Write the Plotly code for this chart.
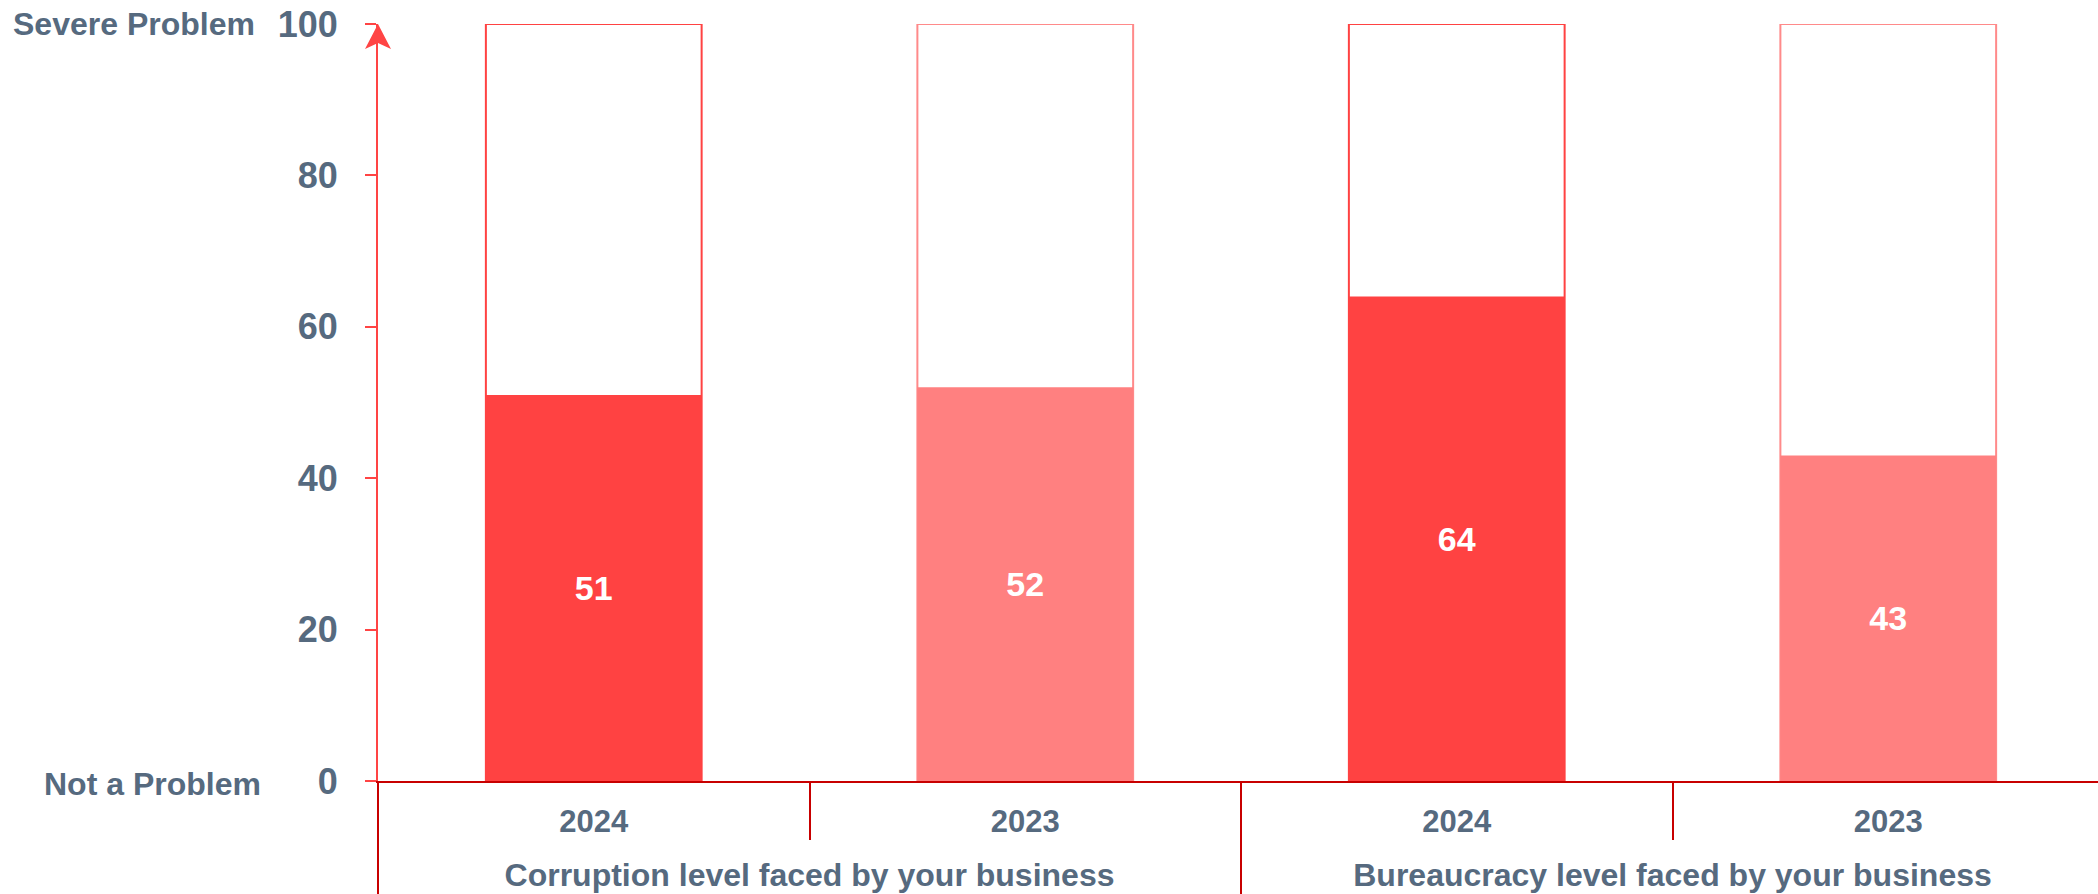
import plotly.graph_objects as go

groups = ["Corruption level faced by your business"] * 2 + ["Bureaucracy level faced by your business"] * 2
years = ["2024", "2023", "2024", "2023"]
scores = [51, 52, 64, 43]
scale_max = [100, 100, 100, 100]

fill_colors = ["#FF4242", "#FF8080", "#FF4242", "#FF8080"]
edge_colors = ["#FF4242", "#FF8A8A", "#FF4242", "#FF8A8A"]
text_color = "#566A7F"
font_family = "Liberation Sans, Arial, sans-serif"

# a tiny blank second line under each year pushes the group row lower
year_labels = ["<span style='font-size:31px'>" + y + "</span><br><span style='font-size:1px'>\u00a0</span>"
               for y in years]
group_labels = ["<span style='font-size:32px'>" + g + "</span>" for g in groups]

fig = go.Figure()

# outline bars for the full 0-100 scale
fig.add_trace(go.Bar(
    x=[group_labels, year_labels], y=scale_max,
    marker=dict(color="white", line=dict(color=edge_colors, width=2)),
    width=0.5, hoverinfo="skip", showlegend=False
))

# filled bars with the score
fig.add_trace(go.Bar(
    x=[group_labels, year_labels], y=scores,
    marker=dict(color=fill_colors, line=dict(width=0)),
    width=0.5,
    text=[str(v) for v in scores],
    textposition="inside", insidetextanchor="middle",
    textfont=dict(family=font_family, size=34, color="white", weight="bold"),
    showlegend=False
))

# slightly wider than the window so the last divider falls off the right edge
fig.update_layout(
    width=2104, height=894,
    margin=dict(l=378, r=0, t=24, b=113),
    barmode="overlay",
    plot_bgcolor="white", paper_bgcolor="white",
    font=dict(family=font_family, color=text_color),
)

fig.update_xaxes(
    type="multicategory", automargin=False,
    showline=True, linecolor="#C80000", linewidth=2,
    ticks="outside", tickson="boundaries", ticklen=57, tickwidth=2, tickcolor="#C80000",
    ticklabelstandoff=14,
    showdividers=True, dividercolor="#C80000", dividerwidth=2,
    tickfont=dict(family=font_family, size=29, color=text_color, weight="bold"),
    showgrid=False,
)

fig.update_yaxes(
    range=[0, 100], tickvals=[0, 20, 40, 60, 80, 100], automargin=False,
    showline=True, linecolor="#FF4444", linewidth=2,
    ticks="outside", ticklen=11, tickwidth=2, tickcolor="#FF4444",
    ticklabelstandoff=20,
    tickfont=dict(family=font_family, size=36, color=text_color, weight="bold"),
    showgrid=False, zeroline=False,
)

# arrow head at top of the y axis
fig.add_shape(
    type="path", xref="paper", yref="y",
    xsizemode="pixel", ysizemode="pixel", xanchor=0, yanchor=100,
    path="M0,0 L-13,-25 L0,-19 L13,-25 Z",
    fillcolor="#FF4444", line=dict(width=0),
)

fig.add_annotation(
    text="Severe Problem", xref="paper", yref="y", x=0, y=100,
    xanchor="right", yanchor="middle", xshift=-121, showarrow=False,
    font=dict(family=font_family, size=32, color=text_color, weight="bold"),
)
fig.add_annotation(
    text="Not a Problem", xref="paper", yref="y", x=0, y=0,
    xanchor="right", yanchor="middle", xshift=-115, yshift=-3, showarrow=False,
    font=dict(family=font_family, size=32, color=text_color, weight="bold"),
)

# drop the default page margin and scrollbars so the figure sits at the window corner
fig.write_html(
    "out.html",
    config={"displayModeBar": False},
    post_script="document.body.style.margin='0px';document.body.style.overflow='hidden';",
)
